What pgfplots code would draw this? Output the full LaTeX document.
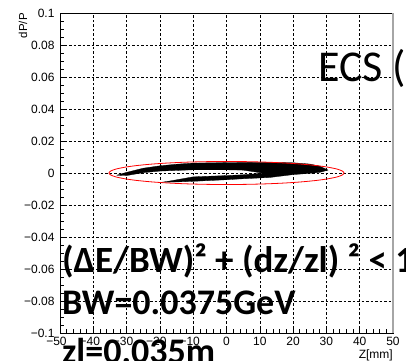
\documentclass[border=0pt]{standalone}
\usepackage{fontspec}
\setmainfont{Liberation Sans}
\newfontfamily\calibri{Carlito}
\usepackage{pgfplots}
\pgfplotsset{compat=1.18}
\begin{document}
\begin{tikzpicture}
\begin{axis}[
  scale only axis, width=333bp, height=320bp,
  at={(60bp,28bp)}, anchor=south west,
  xmin=-50, xmax=50, ymin=-0.1, ymax=0.1,
  xtick={-50,-40,-30,-20,-10,0,10,20,30,40,50},
  xticklabels={\llap{−}50,\llap{−}40,\llap{−}30,\llap{−}20,\llap{−}10,0,10,20,30,40,50},
  ytick={-0.1,-0.08,-0.06,-0.04,-0.02,0,0.02,0.04,0.06,0.08,0.1},
  yticklabels={−0.1,−0.08,−0.06,−0.04,−0.02,0,0.02,0.04,0.06,0.08,0.1},
  minor x tick num=4, minor y tick num=3,
  tick align=inside, xtick pos=bottom, ytick pos=left,
  major tick length=7bp, minor tick length=4bp,
  tick style={black, line width=0.6bp},
  grid=major,
  major grid style={black, line width=0.5bp, dash pattern=on 2.5bp off 2bp},
  axis line style={line width=0.8bp},
  ticklabel style={font=\fontsize{12bp}{14bp}\selectfont},
  yticklabel style={xshift=-2bp},
  xticklabel style={yshift=-1bp},
]
% black band of particles (outline of the populated region)
\addplot[fill=black, draw=black, line width=0.3bp] coordinates {
  (-33,-0.0014) (-30,0.0004) (-25,0.0030) (-20,0.0045) (-15,0.0055)
  (-10,0.0062) (0,0.0065) (10,0.0067) (20,0.0064) (25,0.0056)
  (28,0.0043) (30.5,0.0018)
  (28,0.0004) (25,-0.0002) (20,-0.0010) (13,-0.0028) (5,-0.0036)
  (0,-0.0042) (-10,-0.0052) (-15,-0.0056) (-19.5,-0.0058)
  (-17,-0.0050) (-10,-0.0024) (0,-0.0016) (5,-0.0011) (11,-0.0001)
  (5,0.0018) (0,0.0020) (-10,0.0020) (-20,0.0012) (-25,0.0002)
  (-30,-0.0016) (-33,-0.0014)
};
% acceptance ellipse
\addplot[red, line width=0.8bp, smooth] coordinates {
  (0,0.0072) (6.13,0.00709) (12.07,0.00677) (17.65,0.00624) (22.69,0.00552)
  (27.04,0.00463) (30.57,0.0036) (33.17,0.00246) (34.76,0.00125) (35.3,0)
  (34.76,-0.00125) (33.17,-0.00246) (30.57,-0.0036) (27.04,-0.00463)
  (22.69,-0.00552) (17.65,-0.00624) (12.07,-0.00677) (6.13,-0.00709)
  (0,-0.0072) (-6.13,-0.00709) (-12.07,-0.00677) (-17.65,-0.00624)
  (-22.69,-0.00552) (-27.04,-0.00463) (-30.57,-0.0036) (-33.17,-0.00246)
  (-34.76,-0.00125) (-35.3,0) (-34.76,0.00125) (-33.17,0.00246)
  (-30.57,0.0036) (-27.04,0.00463) (-22.69,0.00552) (-17.65,0.00624)
  (-12.07,0.00677) (-6.13,0.00709) (0,0.0072)
};
\end{axis}
\draw[gray!70, line width=1.6bp] (393bp,28bp) -- (393bp,348.4bp);
\node[rotate=90, anchor=east, inner sep=0pt, font=\fontsize{11.5bp}{13bp}\selectfont] at (23bp,348bp) {dP/P};
\node[anchor=base east, inner sep=0pt, font=\fontsize{12bp}{14bp}\selectfont] at (393bp,3bp) {Z[mm]};
\node[anchor=base west, inner sep=0pt, font=\calibri\fontsize{44bp}{48bp}\selectfont] at (318bp,279bp) {ECS (};
\node[anchor=base west, inner sep=0pt, font=\calibri\bfseries\fontsize{37bp}{40bp}\selectfont] at (62bp,88bp) {(ΔE/BW)² + (dz/zl) ² < 1};
\node[anchor=base west, inner sep=0pt, font=\calibri\bfseries\fontsize{36bp}{40bp}\selectfont] at (62bp,46bp) {BW=0.0375GeV};
\node[anchor=base west, inner sep=0pt, font=\calibri\bfseries\fontsize{36bp}{40bp}\selectfont] at (62bp,-2bp) {zl=0.035m};
\pgfresetboundingbox
\path[use as bounding box] (0,0) rectangle (406bp,361bp);
\end{tikzpicture}
\end{document}
